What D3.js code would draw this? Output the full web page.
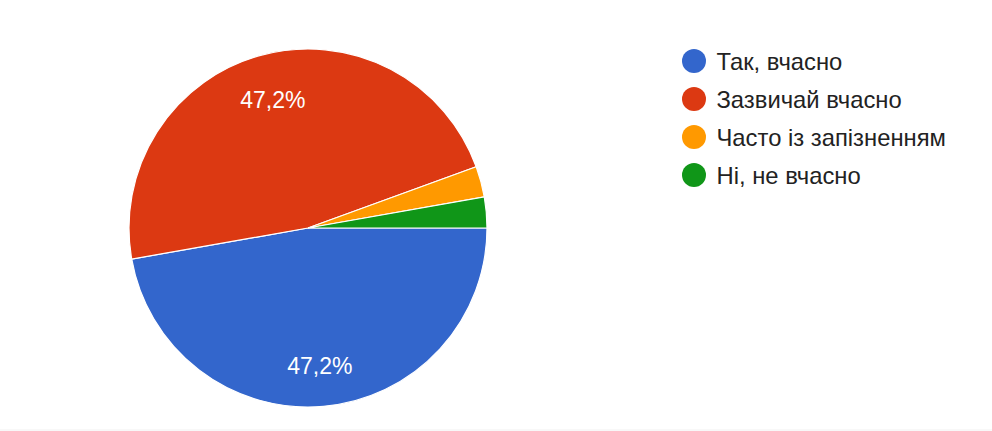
<!DOCTYPE html>
<html>
<head>
<meta charset="utf-8">
<script src="https://cdn.jsdelivr.net/npm/d3@7"></script>
<style>
  html, body { margin: 0; padding: 0; background: #fff; }
  svg { display: block; }
</style>
</head>
<body>
<svg id="chart" width="992" height="431"></svg>
<script>
const categories = ["Так, вчасно", "Зазвичай вчасно", "Часто із запізненням", "Ні, не вчасно"];
const values = [17, 17, 1, 1];
const colors = ["#3366cc", "#dc3912", "#ff9900", "#109618"];

const W = 992, H = 431;
const cx = 308, cy = 228, R = 179;
const svg = d3.select("#chart");

svg.append("rect").attr("x", 0).attr("y", 429).attr("width", W).attr("height", 2).attr("fill", "#f8f8f8");

const total = d3.sum(values);
const pie = d3.pie().sort(null).value(d => d)
  .startAngle(Math.PI / 2).endAngle(Math.PI / 2 + 2 * Math.PI);
const arcs = pie(values);
const arc = d3.arc().innerRadius(0).outerRadius(R);
const labelArc = d3.arc().innerRadius(136).outerRadius(136);

const g = svg.append("g").attr("transform", `translate(${cx},${cy})`);
g.selectAll("path").data(arcs).join("path")
  .attr("d", arc)
  .attr("fill", (d, i) => colors[i])
  .attr("stroke", "#fff")
  .attr("stroke-width", 1.2);

const fmt = v => (Math.round(v / total * 1000) / 10).toFixed(1).replace(".", ",") + "%";
g.selectAll("text.lbl").data(arcs.filter(d => d.value / total > 0.05)).join("text")
  .attr("class", "lbl")
  .attr("x", d => labelArc.centroid(d)[0])
  .attr("y", d => labelArc.centroid(d)[1] + 11)
  .attr("text-anchor", "middle")
  .attr("font-family", "Liberation Sans, Arial, sans-serif")
  .attr("font-size", 23)
  .attr("fill", "#fff")
  .text(d => fmt(d.value));

const legY = d3.scalePoint().domain(categories).range([61, 175]);
const leg = svg.append("g");
const items = leg.selectAll("g").data(categories).join("g")
  .attr("transform", d => `translate(694,${legY(d)})`);
items.append("circle").attr("r", 12).attr("fill", (d, i) => colors[i]);
items.append("text")
  .attr("x", 22.5).attr("y", 8.5)
  .attr("font-family", "Liberation Sans, Arial, sans-serif")
  .attr("font-size", 23.8)
  .attr("fill", "#222")
  .text(d => d);
</script>
</body>
</html>
